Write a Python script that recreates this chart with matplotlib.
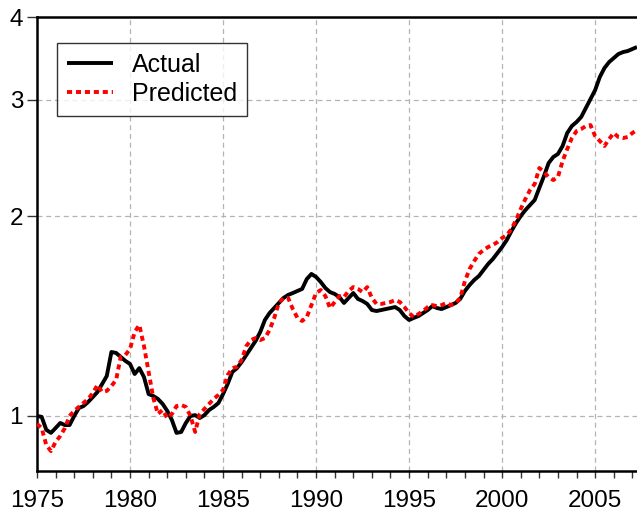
import numpy as np
import matplotlib
matplotlib.use('Agg')
import matplotlib.pyplot as plt
from matplotlib.ticker import FixedLocator, NullLocator, MultipleLocator

plt.rcParams['font.family'] = ['Liberation Sans', 'DejaVu Sans']

# quarterly, 1975Q1 .. 2007Q2
start_year = 1975
n_quarters = 130

actual = [
    1.000, 0.997, 0.953, 0.943, 0.959, 0.976, 0.969, 0.969,
    1.000, 1.028, 1.035, 1.050, 1.068, 1.087, 1.118, 1.149,
    1.249, 1.245, 1.228, 1.211, 1.198, 1.157, 1.181, 1.145,
    1.079, 1.072, 1.061, 1.043, 1.018, 0.986, 0.943, 0.946,
    0.976, 1.000, 1.003, 0.993, 1.003, 1.021, 1.032, 1.046,
    1.079, 1.118, 1.165, 1.181, 1.206, 1.236, 1.266, 1.298,
    1.339, 1.396, 1.430, 1.455, 1.481, 1.507, 1.523, 1.533,
    1.544, 1.555, 1.609, 1.638, 1.621, 1.593, 1.560, 1.538,
    1.528, 1.512, 1.481, 1.507, 1.533, 1.502, 1.491, 1.476,
    1.445, 1.440, 1.445, 1.450, 1.455, 1.460, 1.445, 1.415,
    1.396, 1.406, 1.415, 1.430, 1.445, 1.465, 1.455, 1.450,
    1.460, 1.470, 1.481, 1.502, 1.544, 1.576, 1.604, 1.626,
    1.661, 1.696, 1.725, 1.762, 1.799, 1.843, 1.901, 1.955,
    2.003, 2.045, 2.081, 2.118, 2.208, 2.302, 2.408, 2.459,
    2.485, 2.555, 2.673, 2.739, 2.777, 2.826, 2.915, 3.008,
    3.103, 3.247, 3.350, 3.420, 3.468, 3.517, 3.541, 3.554,
    3.579, 3.604,
]

predicted = [
    0.973, 0.959, 0.904, 0.885, 0.914, 0.933, 0.959, 1.000,
    1.018, 1.032, 1.046, 1.061, 1.083, 1.114, 1.087, 1.091,
    1.110, 1.133, 1.228, 1.236, 1.262, 1.339, 1.372, 1.275,
    1.165, 1.065, 1.007, 1.021, 0.993, 1.007, 1.035, 1.039,
    1.032, 1.000, 0.946, 1.007, 1.025, 1.043, 1.061, 1.076,
    1.095, 1.153, 1.181, 1.186, 1.215, 1.275, 1.302, 1.311,
    1.302, 1.311, 1.348, 1.406, 1.481, 1.507, 1.507, 1.450,
    1.406, 1.391, 1.410, 1.470, 1.533, 1.549, 1.517, 1.455,
    1.486, 1.517, 1.512, 1.544, 1.565, 1.555, 1.538, 1.565,
    1.507, 1.476, 1.476, 1.481, 1.486, 1.496, 1.486, 1.460,
    1.430, 1.410, 1.425, 1.440, 1.460, 1.470, 1.465, 1.470,
    1.481, 1.470, 1.481, 1.507, 1.598, 1.666, 1.713, 1.756,
    1.780, 1.799, 1.811, 1.830, 1.856, 1.875, 1.915, 1.976,
    2.053, 2.125, 2.193, 2.239, 2.367, 2.334, 2.294, 2.270,
    2.294, 2.425, 2.528, 2.627, 2.691, 2.710, 2.739, 2.748,
    2.645, 2.600, 2.555, 2.618, 2.673, 2.636, 2.627, 2.636,
    2.673, 2.701,
]

t = start_year + np.arange(n_quarters) / 4.0

fig = plt.figure(figsize=(6.37, 5.12), dpi=100)
ax = fig.add_axes([37 / 637, 1 - 471 / 512, 600 / 637, 454 / 512])

ax.plot(t, actual, color='black', linewidth=2.8, label='Actual', zorder=3,
        solid_capstyle='butt')
ax.plot(t, predicted, color='red', linewidth=2.8, linestyle=(0, (1.3, 1.0)),
        label='Predicted', zorder=4)

ax.set_yscale('log')
ax.set_ylim(0.826, 4.0)
ax.set_xlim(start_year, t[-1])

ax.yaxis.set_major_locator(FixedLocator([1, 2, 3, 4]))
ax.yaxis.set_minor_locator(NullLocator())
ax.set_yticklabels(['1', '2', '3', '4'])
ax.xaxis.set_major_locator(MultipleLocator(5))
ax.xaxis.set_minor_locator(MultipleLocator(1))
ax.xaxis.set_major_formatter(matplotlib.ticker.FormatStrFormatter('%d'))

ax.grid(True, which='major', color='#b4b4b4', linestyle=(0, (4, 3)), linewidth=0.9)
ax.set_axisbelow(True)

for side in ['top', 'left', 'bottom']:
    ax.spines[side].set_linewidth(1.8)
ax.spines['right'].set_visible(False)

ax.tick_params(axis='both', which='both', direction='out', labelsize=17.5, color='#333333')
ax.tick_params(axis='x', which='major', length=5, width=1.0, pad=9)
ax.tick_params(axis='x', which='minor', length=5, width=1.0)
ax.tick_params(axis='y', which='major', length=7, width=1.0, pad=3)

leg = ax.legend(loc='upper left', bbox_to_anchor=(0.033, 0.943), borderaxespad=0,
                fontsize=18, frameon=True, fancybox=False, handlelength=1.85,
                handletextpad=0.75, borderpad=0.4, labelspacing=0.2)
leg.get_frame().set_edgecolor('black')
leg.get_frame().set_linewidth(1.0)

fig.savefig('out.png', dpi=100)
